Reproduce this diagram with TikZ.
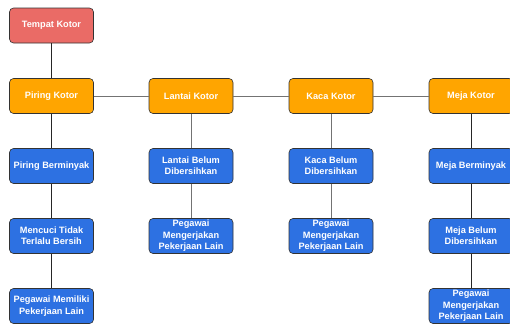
\documentclass[tikz,border=0pt]{standalone}
\usepackage{fontspec}
\setmainfont{Liberation Sans}
\begin{document}
\begin{tikzpicture}[x=1pt,y=-1pt,
  box/.style={draw=black!80, line width=0.6pt, rounded corners=4pt, minimum width=84pt, minimum height=35pt, inner sep=0pt, align=center, text=white, font=\bfseries\fontsize{9.2}{11.4}\selectfont},
  redbox/.style={box, fill={rgb,255:red,234;green,107;blue,102}},
  orbox/.style={box, fill={rgb,255:red,255;green,165;blue,0}},
  bluebox/.style={box, fill={rgb,255:red,45;green,113;blue,226}},
  dk/.style={draw=black!85, line width=0.7pt},
  gr/.style={draw=black!55, line width=0.7pt}]
\useasboundingbox (0,0) rectangle (510,324);
\node[redbox] (t) at (51.5,25.5) {Tempat Kotor};
\node[orbox] (p) at (51.5,96) {Piring Kotor};
\node[orbox] (l) at (191,96) {Lantai Kotor};
\node[orbox] (k) at (331,96) {Kaca Kotor};
\node[orbox] (m) at (471,96) {Meja Kotor};
\node[bluebox] (p1) at (51.5,166) {Piring Berminyak};
\node[bluebox] (p2) at (51.5,236) {Mencuci Tidak\\Terlalu Bersih};
\node[bluebox] (p3) at (51.5,306) {Pegawai Memiliki\\Pekerjaan Lain};
\node[bluebox] (l1) at (191,166) {Lantai Belum\\Dibersihkan};
\node[bluebox] (l2) at (191,236) {Pegawai\\Mengerjakan\\Pekerjaan Lain};
\node[bluebox] (k1) at (331,166) {Kaca Belum\\Dibersihkan};
\node[bluebox] (k2) at (331,236) {Pegawai\\Mengerjakan\\Pekerjaan Lain};
\node[bluebox] (m1) at (471,166) {Meja Berminyak};
\node[bluebox] (m2) at (471,236) {Meja Belum\\Dibersihkan};
\node[bluebox] (m3) at (471,306) {Pegawai\\Mengerjakan\\Pekerjaan Lain};
\draw[dk] (t) -- (p);
\draw[gr] (p) -- (l);
\draw[gr] (l) -- (k);
\draw[gr] (k) -- (m);
\draw[dk] (p) -- (p1);
\draw[dk] (p1) -- (p2);
\draw[dk] (p2) -- (p3);
\draw[gr] (l) -- (l1);
\draw[gr] (l1) -- (l2);
\draw[gr] (k) -- (k1);
\draw[gr] (k1) -- (k2);
\draw[dk] (m) -- (m1);
\draw[dk] (m1) -- (m2);
\draw[dk] (m2) -- (m3);
\end{tikzpicture}
\end{document}
